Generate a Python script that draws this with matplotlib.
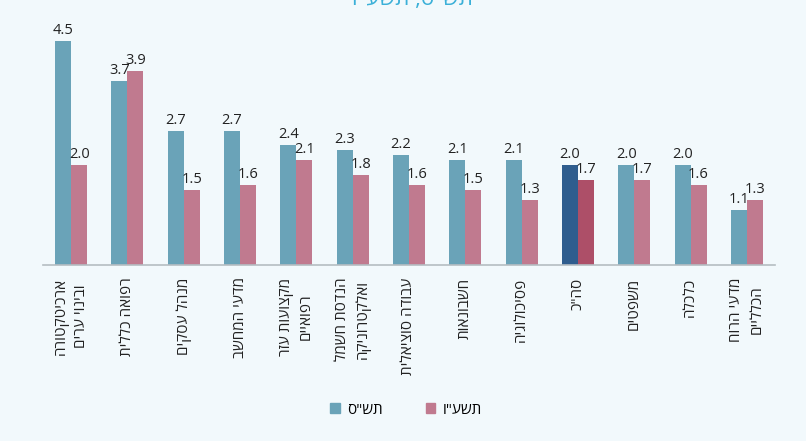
import matplotlib.pyplot as plt
import numpy as np
from matplotlib.patches import Patch

plt.rcParams['font.family'] = ['Open Sans', 'DejaVu Sans']

# data (Hebrew kept in logical order, reversed for display below)
categories = ['ארכיטקטורה\nובינוי ערים', 'רפואה כללית', 'מנהל עסקים', 'מדעי המחשב',
              'מקצועות עזר\nרפואיים', 'הנדסת חשמל\nואלקטרוניקה', 'עבודה סוציאלית',
              'חשבונאות', 'פסיכולוגיה', 'סה"כ', 'משפטים', 'כלכלה', 'מדעי הרוח\nהכלליים']
values_old = [4.5, 3.7, 2.7, 2.7, 2.4, 2.3, 2.2, 2.1, 2.1, 2.0, 2.0, 2.0, 1.1]
values_new = [2.0, 3.9, 1.5, 1.6, 2.1, 1.8, 1.6, 1.5, 1.3, 1.7, 1.7, 1.6, 1.3]
series_names = ['תש"ס', 'תשע"ו']
title = 'תש"ס, תשע"ו'
highlight = 'סה"כ'

BG = '#f2f9fc'
BLUE, PINK = '#6aa3b8', '#c07a8f'
DBLUE, DPINK = '#2f5d8e', '#ad4f68'


def rtl(s):
    # matplotlib has no bidi support: reverse each line
    return '\n'.join(line[::-1] for line in s.split('\n'))


fig = plt.figure(figsize=(8.06, 4.41), dpi=100, facecolor=BG)
W, H = 806, 441
ax = fig.add_axes([43 / W, (H - 265) / H, (775 - 43) / W, 245 / H])
ax.set_facecolor(BG)

x = np.arange(len(categories))
w = 0.284
c_old = [DBLUE if c == highlight else BLUE for c in categories]
c_new = [DPINK if c == highlight else PINK for c in categories]
b1 = ax.bar(x - w / 2, values_old, w, color=c_old)
b2 = ax.bar(x + w / 2, values_new, w, color=c_new)

for bars, vals in ((b1, values_old), (b2, values_new)):
    for b, v in zip(bars, vals):
        ax.text(b.get_x() + b.get_width() / 2, v + 0.06, f'{v:.1f}', ha='center', va='bottom',
                fontsize=10.5, color='#222222')

ax.set_xlim(-0.5, len(categories) - 0.5)
ax.set_ylim(0, 4.92)
ax.set_yticks([])
for s in ('top', 'right', 'left'):
    ax.spines[s].set_visible(False)
ax.spines['bottom'].set_color('#b5bdc2')
ax.spines['bottom'].set_linewidth(1.2)
ax.set_xticks(x)
ax.set_xticklabels([rtl(c) for c in categories], rotation=90, ha='center', va='top',
                   multialignment='center', fontsize=11, color='#222222', linespacing=1.45)
ax.tick_params(axis='x', length=0, pad=9)

fig.text(412 / W, 1 - 5 / H, rtl(title), ha='center', va='baseline', fontsize=16, color='#3bb0d8')

handles = [Patch(color=BLUE), Patch(color=PINK)]
fig.legend(handles, [rtl(n) for n in series_names], loc='center', bbox_to_anchor=(406 / W, 1 - 410 / H),
           ncol=2, frameon=False, fontsize=11, handlelength=0.6, handleheight=0.6,
           columnspacing=2.8, handletextpad=0.5)

fig.savefig('out.png', dpi=100, facecolor=BG)
